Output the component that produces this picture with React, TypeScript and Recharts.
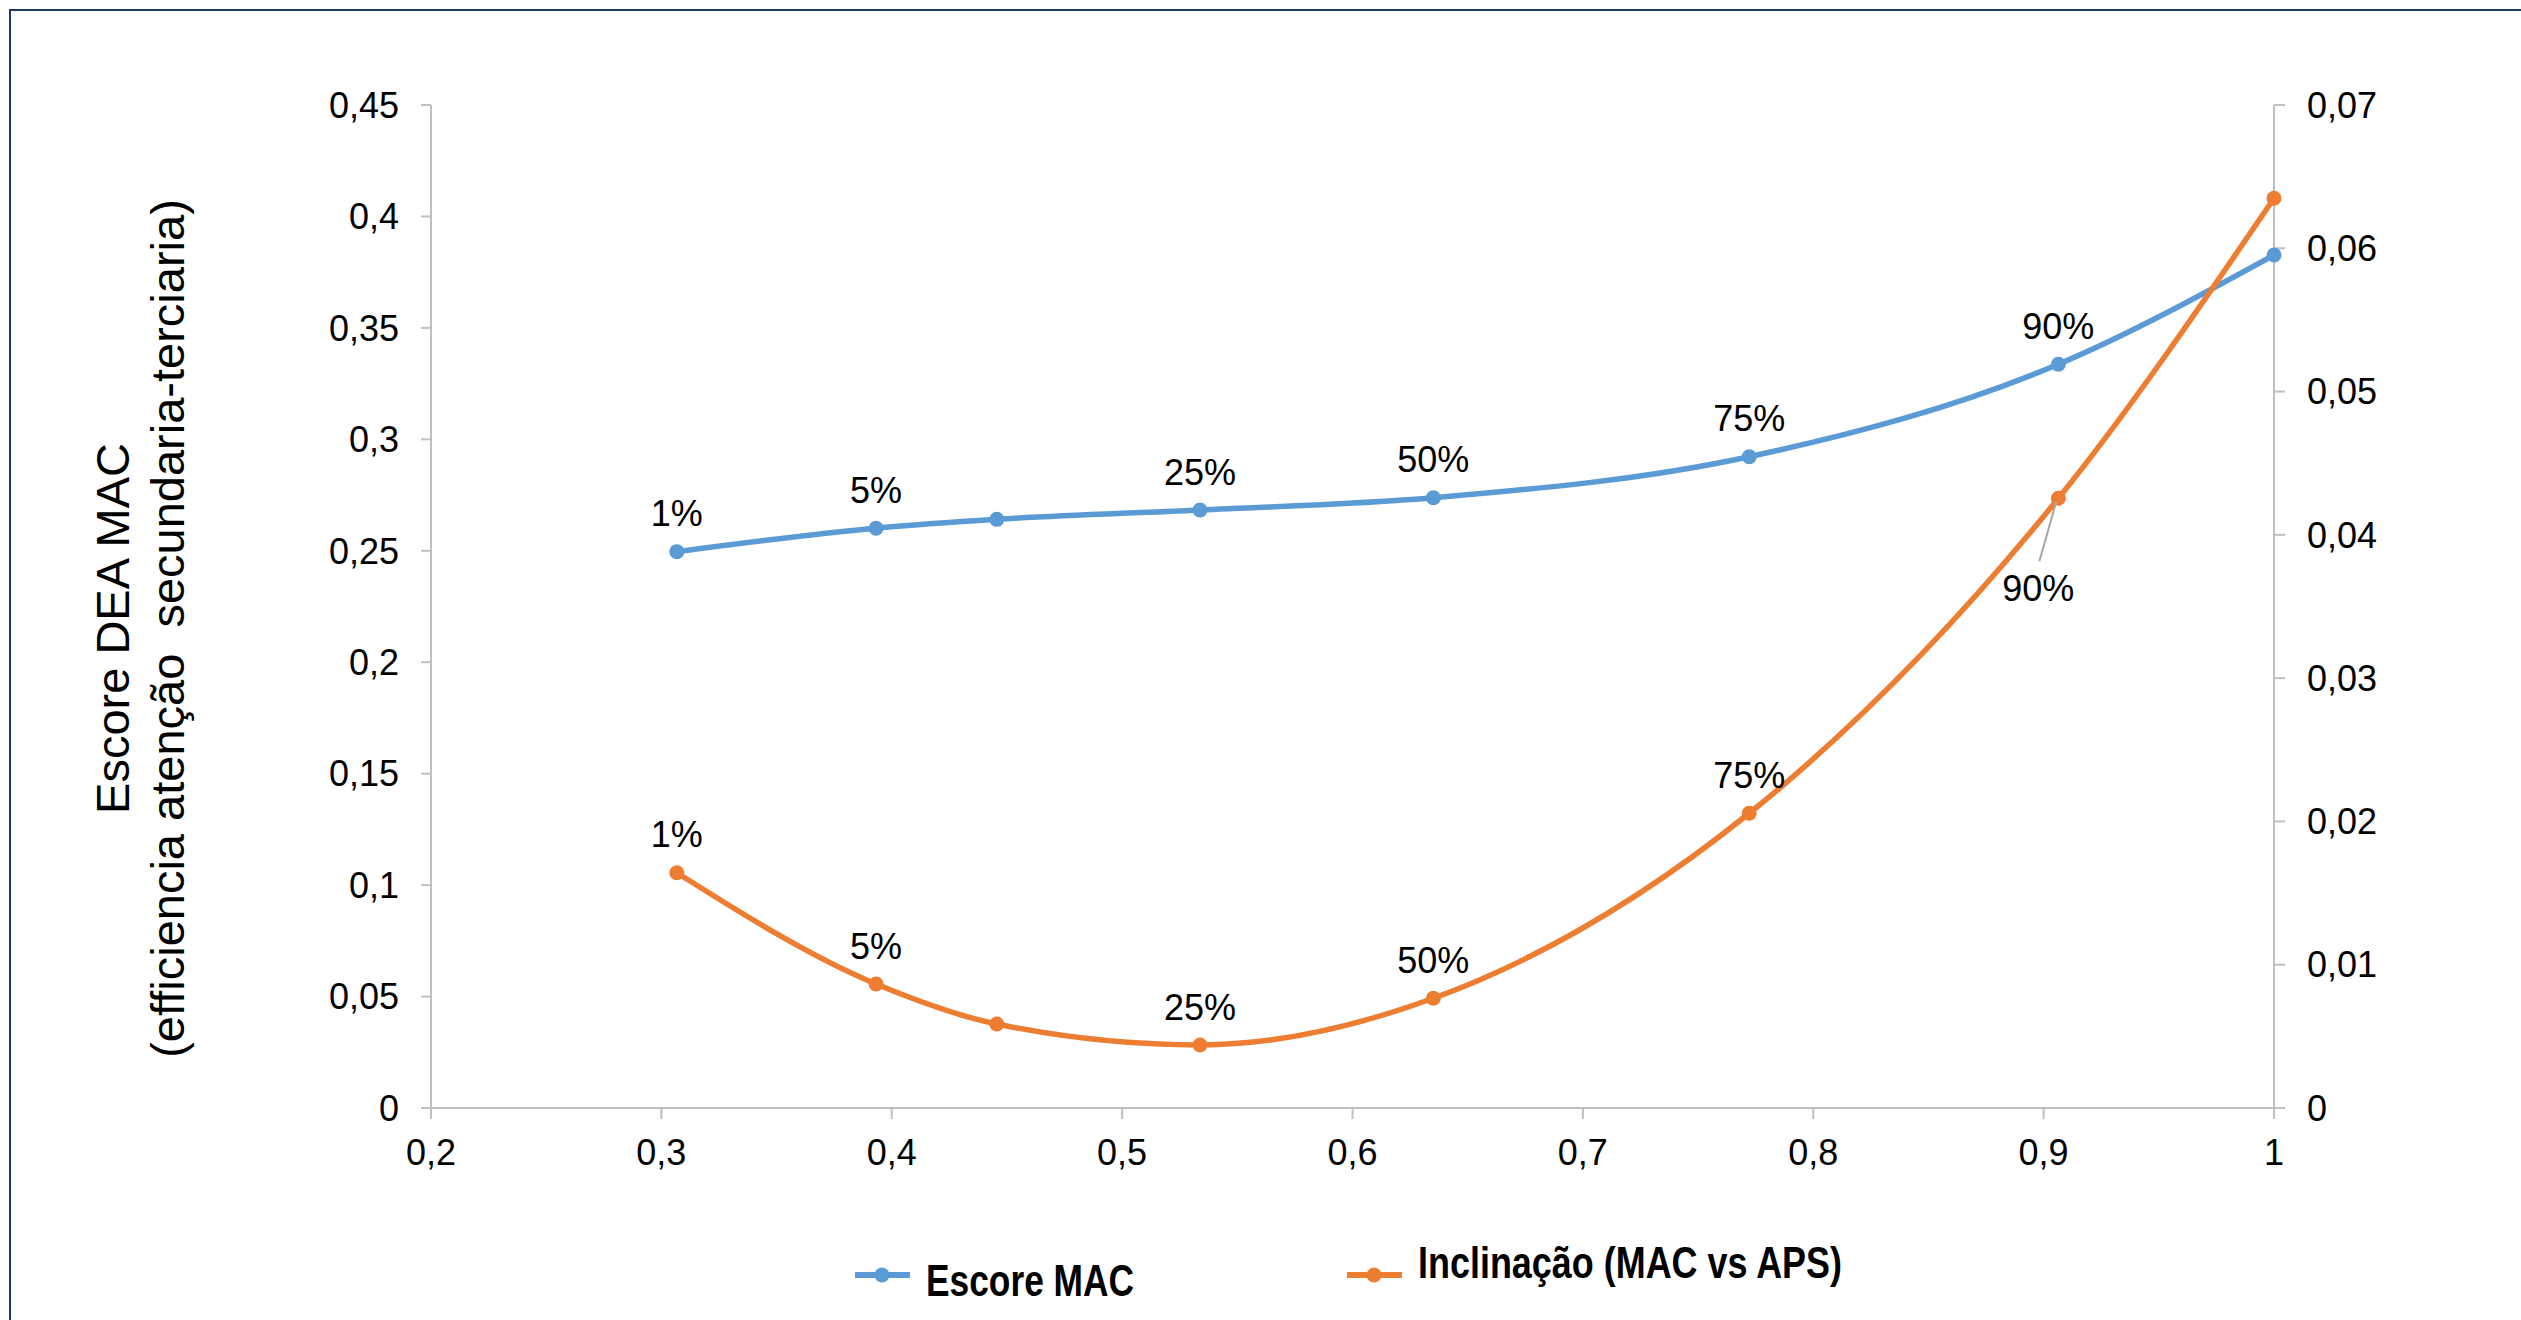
import { LineChart, Line, XAxis, YAxis, Legend, LabelList } from "recharts";

// percentile points along the x axis
const xValues = [0.3067, 0.3932, 0.4456, 0.5338, 0.6351, 0.7722, 0.9064, 1.0];
const escoreMac = [0.2496, 0.2601, 0.2641, 0.2683, 0.2738, 0.2922, 0.3337, 0.3827];
const inclinacao = [0.01642, 0.00865, 0.00586, 0.0044, 0.00766, 0.02057, 0.04255, 0.06349];
const macLabels = ["1%", "5%", "", "25%", "50%", "75%", "90%", ""];
const inclLabels = ["1%", "5%", "", "25%", "50%", "75%", "90%", ""];

const xTicks = [0.2, 0.3, 0.4, 0.5, 0.6, 0.7, 0.8, 0.9, 1];
const leftTicks = [0, 0.05, 0.1, 0.15, 0.2, 0.25, 0.3, 0.35, 0.4, 0.45];
const rightTicks = [0, 0.01, 0.02, 0.03, 0.04, 0.05, 0.06, 0.07];

const data = xValues.map((x, i) => ({
  x,
  mac: escoreMac[i],
  incl: inclinacao[i],
  macLabel: macLabels[i],
  inclLabel: inclLabels[i],
}));

const BLUE = "#5B9BD5";
const ORANGE = "#ED7D31";
const AXIS = "#BFBFBF";
const FONT = "'Liberation Sans', Arial, sans-serif";

const fmt = (v: number) => String(v).replace(".", ",");

const tickStyle = { fill: "#000", fontSize: 36, fontFamily: FONT };

function PointLabel(props: any) {
  const x = props.x ?? props.viewBox?.x;
  const y = props.y ?? props.viewBox?.y;
  const { value, below } = props;
  if (!value) return null;
  if (below) {
    // label pushed under the point, with a leader line
    return (
      <g>
        <line x1={x - 2} y1={y + 3} x2={x - 19} y2={y + 63} stroke="#A6A6A6" strokeWidth={2} />
        <text x={x - 20} y={y + 90} dy="0.35em" textAnchor="middle" fontSize={36} fontFamily={FONT} fill="#000">
          {value}
        </text>
      </g>
    );
  }
  return (
    <text x={x} y={y - 38} dy="0.35em" textAnchor="middle" fontSize={36} fontFamily={FONT} fill="#000">
      {value}
    </text>
  );
}

function AxisTitle(props: any) {
  const vb = props.viewBox;
  const cx = vb.x - 198;
  const cy = vb.y + vb.height / 2 + 22;
  const lines = ["Escore DEA MAC", "(efficiencia atenção  secundaria-terciaria)"];
  return (
    <g>
      {lines.map((t, i) => {
        const lx = cx + i * 55;
        return (
          <text
            key={i}
            x={lx}
            y={cy}
            dy="0.35em"
            textAnchor="middle"
            transform={`rotate(-90, ${lx}, ${cy})`}
            fontSize={47}
            fontFamily={FONT}
            fill="#000"
            style={{ whiteSpace: "pre" }}
          >
            {t}
          </text>
        );
      })}
    </g>
  );
}

// legend entries sit at slightly different heights; text is condensed to fit
const legendLayout: Record<string, { x: number; lineY: number; textY: number; textW: number }> = {
  mac: { x: 855, lineY: 1275, textY: 1281, textW: 208 },
  incl: { x: 1347, lineY: 1275, textY: 1263, textW: 424 },
};

function LegendContent({ payload }: any) {
  return (
    <svg width={2521} height={1320} style={{ position: "absolute", left: 0, top: 0, overflow: "visible" }}>
      {(payload || []).map((item: any) => {
        const pos = legendLayout[item.dataKey];
        if (!pos) return null;
        return (
          <g key={item.dataKey}>
            <line x1={pos.x} y1={pos.lineY} x2={pos.x + 55} y2={pos.lineY} stroke={item.color} strokeWidth={6} />
            <circle cx={pos.x + 27} cy={pos.lineY} r={7.5} fill={item.color} />
            <text
              x={pos.x + 71}
              y={pos.textY}
              dy="0.35em"
              fontSize={44}
              fontWeight="bold"
              fontFamily={FONT}
              textLength={pos.textW}
              lengthAdjust="spacingAndGlyphs"
              fill="#000"
            >
              {item.value}
            </text>
          </g>
        );
      })}
    </svg>
  );
}

export default function App() {
  return (
    <div
      style={{
        position: "absolute",
        left: 0,
        top: 0,
        width: 2521,
        height: 1320,
        overflow: "hidden",
        background: "#fff",
      }}
    >
      <div
        style={{
          position: "absolute",
          left: 9,
          top: 9,
          width: 2700,
          height: 1500,
          border: "2.5px solid #1F3A5F",
        }}
      />
      <div style={{ position: "absolute", left: 0, top: 0 }}>
        <LineChart width={2521} height={1320} data={data} margin={{ top: 105, right: 127, left: 311, bottom: 152 }}>
          <XAxis
            dataKey="x"
            type="number"
            domain={[0.2, 1]}
            ticks={xTicks}
            tickFormatter={fmt}
            tick={tickStyle}
            tickSize={11}
            tickMargin={20}
            height={60}
            axisLine={{ stroke: AXIS, strokeWidth: 2 }}
            tickLine={{ stroke: AXIS, strokeWidth: 2 }}
          />
          <YAxis
            yAxisId="left"
            domain={[0, 0.45]}
            ticks={leftTicks}
            tickFormatter={fmt}
            tick={tickStyle}
            tickSize={10}
            tickMargin={22}
            width={120}
            axisLine={{ stroke: AXIS, strokeWidth: 2 }}
            tickLine={{ stroke: AXIS, strokeWidth: 2 }}
            label={<AxisTitle />}
          />
          <YAxis
            yAxisId="right"
            orientation="right"
            domain={[0, 0.07]}
            ticks={rightTicks}
            tickFormatter={fmt}
            tick={{ ...tickStyle, textAnchor: "start" }}
            tickSize={11}
            tickMargin={22}
            width={120}
            axisLine={{ stroke: AXIS, strokeWidth: 2 }}
            tickLine={{ stroke: AXIS, strokeWidth: 2 }}
          />
          <Legend
            layout="vertical"
            align="center"
            verticalAlign="middle"
            wrapperStyle={{ left: 0, top: 0, width: 2521, height: 1320 }}
            content={<LegendContent />}
          />
          <Line
            yAxisId="left"
            dataKey="mac"
            name="Escore MAC"
            type="monotone"
            stroke={BLUE}
            strokeWidth={5.5}
            dot={{ r: 7.5, fill: BLUE, stroke: BLUE, strokeWidth: 0 }}
            isAnimationActive={false}
          >
            <LabelList dataKey="macLabel" content={<PointLabel />} />
          </Line>
          <Line
            yAxisId="right"
            dataKey="incl"
            name="Inclinação (MAC vs APS)"
            type="monotone"
            stroke={ORANGE}
            strokeWidth={5.5}
            dot={{ r: 7.5, fill: ORANGE, stroke: ORANGE, strokeWidth: 0 }}
            isAnimationActive={false}
          >
            <LabelList
              dataKey="inclLabel"
              content={(p: any) => <PointLabel {...p} below={p.index === 6} />}
            />
          </Line>
        </LineChart>
      </div>
    </div>
  );
}
